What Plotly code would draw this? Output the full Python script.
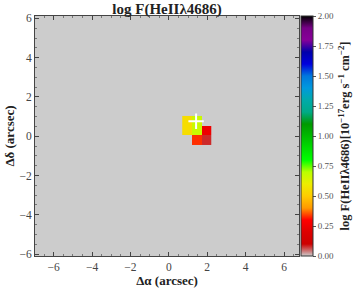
import plotly.graph_objects as go

# ---- data ----
x_centers = [0.95, 1.45, 1.95]          # arcsec
y_centers = [-0.22, 0.28, 0.78]         # arcsec
flux = [                                 # log F(HeII 4686)
    [None, 0.33, 0.08],
    [0.55, 0.67, 0.25],
    [0.55, 0.67, None],
]
cross_x = [1.42]
cross_y = [0.76]
cbar_ticks = [0.0, 0.25, 0.5, 0.75, 1.0, 1.25, 1.5, 1.75, 2.0]
x_ticks = [-6, -4, -2, 0, 2, 4, 6]
y_ticks = [-6, -4, -2, 0, 2, 4, 6]

# nipy_spectral reversed colour scale
_r = [0.0, 0.4667, 0.5333, 0.0, 0.0, 0.0, 0.0, 0.0, 0.0, 0.0, 0.0, 0.0, 0.0, 0.7333, 0.9333, 1.0, 1.0, 1.0, 0.8667, 0.80, 0.80]
_g = [0.0, 0.0, 0.0, 0.0, 0.0, 0.4667, 0.6, 0.6667, 0.6667, 0.6, 0.7333, 0.8667, 1.0, 1.0, 0.9333, 0.8, 0.6, 0.0, 0.0, 0.0, 0.80]
_b = [0.0, 0.5333, 0.6, 0.6667, 0.8667, 0.8667, 0.8667, 0.6667, 0.5333, 0.0, 0.0, 0.0, 0.0, 0.0, 0.0, 0.0, 0.0, 0.0, 0.0, 0.0, 0.80]
colorscale = []
for i in range(21):
    pos = 1 - i * 0.05
    colorscale.append([round(pos, 4), "rgb(%d,%d,%d)" % (_r[i] * 255, _g[i] * 255, _b[i] * 255)])
colorscale.sort(key=lambda c: c[0])

font_family = "Liberation Serif"

fig = go.Figure()
fig.add_trace(go.Heatmap(
    x=x_centers, y=y_centers, z=flux,
    zmin=0, zmax=2, colorscale=colorscale,
    hoverongaps=False,
    colorbar=dict(
        x=1.006, xanchor="left", xpad=0, ypad=0,
        y=0.5, yanchor="middle", len=1, lenmode="fraction",
        thickness=12, outlinewidth=1, outlinecolor="#333",
        tickvals=cbar_ticks, ticktext=["%.2f" % t for t in cbar_ticks],
        ticks="outside", ticklen=3, tickcolor="#555",
        tickfont=dict(family=font_family, size=9, color="#555"),
        title=dict(
            text="<b>log F(HeIIλ4686)[10<sup>−17</sup>erg s<sup>−1</sup> cm<sup>−2</sup>]</b>",
            side="right", font=dict(family=font_family, size=12.5, color="#222"),
        ),
    ),
))
fig.add_trace(go.Scatter(
    x=cross_x, y=cross_y, mode="markers",
    marker=dict(symbol="cross-thin", size=11, line=dict(color="white", width=2)),
    showlegend=False, hoverinfo="skip",
))

axis_common = dict(
    showgrid=False, zeroline=False, showline=True, linecolor="#444", linewidth=1,
    mirror="ticks", ticks="inside", ticklen=4, tickcolor="#444", automargin=False,
    tickfont=dict(family=font_family, size=11.5, color="#444"),
    minor=dict(dtick=0.5, ticks="inside", ticklen=2, tickcolor="#777"),
)
fig.update_xaxes(
    range=[-6.97, 6.78], tickvals=x_ticks, ticktext=["−%d" % -t if t < 0 else str(t) for t in x_ticks],
    title=dict(text="<b>Δα (arcsec)</b>", font=dict(family=font_family, size=13, color="#222"), standoff=1),
    **axis_common,
)
fig.update_yaxes(
    range=[-6.1, 6.12], tickvals=y_ticks, ticktext=["−%d" % -t if t < 0 else str(t) for t in y_ticks],
    title=dict(text="<b>Δδ (arcsec)</b>", font=dict(family=font_family, size=13, color="#222"), standoff=1),
    **axis_common,
)
fig.update_layout(
    width=357, height=288,
    margin=dict(l=35, r=58, t=16, b=32, autoexpand=False),
    plot_bgcolor="#cccccc", paper_bgcolor="white",
    title=dict(text="<b>log F(HeIIλ4686)</b>", x=0.468, xanchor="center", y=0.988, yanchor="top",
               font=dict(family=font_family, size=15, color="#222")),
    showlegend=False,
)
fig.write_html(
    "out.html",
    config={"displayModeBar": False},
    post_script="document.body.style.margin='0';document.body.style.padding='0';document.body.style.overflow='hidden';",
)
